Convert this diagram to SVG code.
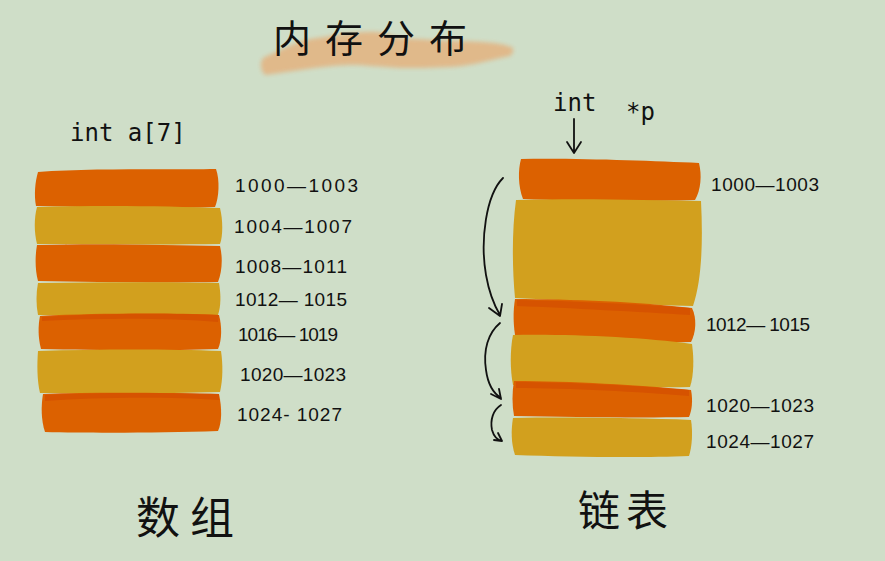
<svg xmlns="http://www.w3.org/2000/svg" width="885" height="561" viewBox="0 0 885 561">
<defs>
<style>
.bg{fill:#cfdec8}
.or{fill:#dc6100}
.or2{fill:#d65300}
.go{fill:#d2a01e}
.lbl{font-family:"Liberation Sans","DejaVu Sans",sans-serif;font-size:19px;fill:#111}
.code{font-family:"DejaVu Sans Mono","Liberation Mono",monospace;font-size:24px;fill:#111}
.cjk{font-family:"Noto Sans CJK SC",sans-serif;fill:#111}
.arr{fill:none;stroke:#111;stroke-width:1.8;stroke-linecap:round;stroke-linejoin:round}
</style>
<filter id="soft" x="-10%" y="-30%" width="120%" height="160%"><feGaussianBlur stdDeviation="2"/></filter>
</defs>
<rect class="bg" x="0" y="0" width="885" height="561"/>

<g id="title">
<path d="M263,58 C285,48 300,40 317,38 C340,35 360,31 377,32 C390,33 395,38 400,38 C430,40 460,41 483,42 C495,43 505,44 513,48 C514,52 512,54 510,56 C490,60 470,66 450,67 C430,68 415,68 400,68 C380,67 365,65 350,65 C320,66 290,72 265,75 C260,70 260,62 263,58 Z" fill="#e2b685" filter="url(#soft)" opacity="0.92"/>
<text class="cjk" x="377" y="52" font-size="38" text-anchor="middle" letter-spacing="14">内存分布</text>
</g>

<g id="array">
<text class="code" x="70" y="141">int a[7]</text>
<g id="a0"><path class="or" d="M38,172 C90,168 170,170 216,169 C220,180 219,198 215,207 C160,209 90,207 36,206 C34,195 35,182 38,172 Z"/><text class="lbl" x="235" y="192" textLength="123">1000—1003</text></g>
<g id="a1"><path class="go" d="M37,207 C100,205 170,206 220,208 C223,220 223,236 220,244 C160,245 90,244 37,244 C34,232 34,218 37,207 Z"/><text class="lbl" x="234" y="233" textLength="118">1004—1007</text></g>
<g id="a2"><path class="or" d="M37,245 C100,243 170,245 220,246 C223,258 222,272 218,282 C160,283 90,282 38,281 C35,270 35,256 37,245 Z"/><text class="lbl" x="235" y="273" textLength="112">1008—1011</text></g>
<g id="a3"><path class="go" d="M38,283 C100,282 170,282 219,283 C221,295 221,306 218,315 C160,316 90,316 38,315 C36,305 36,293 38,283 Z"/><text class="lbl" x="235" y="306" textLength="112">1012— 1015</text></g>
<g id="a4"><path class="or" d="M40,316 C100,313 170,313 219,315 C222,326 222,340 218,349 C160,351 90,350 41,349 C38,338 38,326 40,316 Z"/><path class="or2" d="M42,317 C100,313 170,313 219,315 L218,322 C170,318 100,318 42,321 Z"/><text class="lbl" x="238" y="341" textLength="100">1016— 1019</text></g>
<g id="a5"><path class="go" d="M38,351 C100,349 170,349 221,351 C223,364 223,380 220,392 C160,394 90,393 40,393 C37,380 37,364 38,351 Z"/><text class="lbl" x="240" y="381" textLength="106">1020—1023</text></g>
<g id="a6"><path class="or" d="M43,394 C100,392 170,393 219,394 C222,408 222,422 218,431 C160,433 90,433 45,432 C41,420 41,406 43,394 Z"/><path class="or2" d="M45,395 C100,392 170,393 219,394 L219,400 C170,397 100,397 45,401 Z"/><text class="lbl" x="237" y="421" textLength="105">1024- 1027</text></g>
<text class="cjk" x="136" y="534" font-size="44" letter-spacing="10">数组</text>
</g>

<g id="list">
<text class="code" x="553" y="111">int</text>
<text class="code" x="626" y="120" font-size="28">*p</text>
<g id="l0"><path class="or" d="M521,159 C580,158 650,161 699,163 C702,175 701,190 695,200 C640,202 570,201 523,199 C518,186 518,170 521,159 Z"/><text class="lbl" x="711" y="191" textLength="108">1000—1003</text></g>
<g id="l1"><path class="go" d="M516,200 C580,198 650,200 701,201 C703,240 702,280 693,306 C640,305 570,300 515,298 C512,265 512,230 516,200 Z"/></g>
<g id="l2"><path class="or" d="M515,299 C570,299 640,302 692,308 C697,318 696,333 691,342 C640,343 570,342 516,340 C513,326 513,311 515,299 Z"/><path class="or2" d="M517,300 C570,301 640,304 690,308 L690,315 C640,312 570,308 517,306 Z"/><text class="lbl" x="706" y="331" textLength="104">1012— 1015</text></g>
<g id="l3"><path class="go" d="M513,335 C570,334 640,337 692,344 C694,358 694,375 690,387 C640,388 570,387 513,385 C510,370 510,350 513,335 Z"/></g>
<g id="l4"><path class="or" d="M514,381 C570,381 640,385 691,390 C693,400 692,410 689,417 C640,418 570,417 514,416 C512,405 512,392 514,381 Z"/><path class="or2" d="M516,382 C570,382 640,386 689,390 L689,396 C640,392 570,388 516,388 Z"/><text class="lbl" x="706" y="412" textLength="108">1020—1023</text></g>
<g id="l5"><path class="go" d="M513,418 C570,417 640,418 691,420 C693,432 692,447 689,456 C640,458 570,457 515,455 C511,443 511,430 513,418 Z"/><text class="lbl" x="706" y="448" textLength="108">1024—1027</text></g>
<text class="cjk" x="578" y="526" font-size="42" letter-spacing="6">链表</text>
</g>

<g id="connectors">
<path class="arr" d="M574,119 L574,152 M567,142 L574,153 L581,142"/>
<path class="arr" d="M503,178 C486,195 480,240 486,275 C489,292 494,305 500,315 M489,308 L500,316 L502,304"/>
<path class="arr" d="M500,323 C488,333 483,350 486,370 C488,385 493,393 501,398 M491,394 L501,399 L499,389"/>
<path class="arr" d="M501,405 C493,410 490,420 492,430 C494,437 497,440 502,441 M494,440 L502,441 L498,433"/>
</g>
</svg>
